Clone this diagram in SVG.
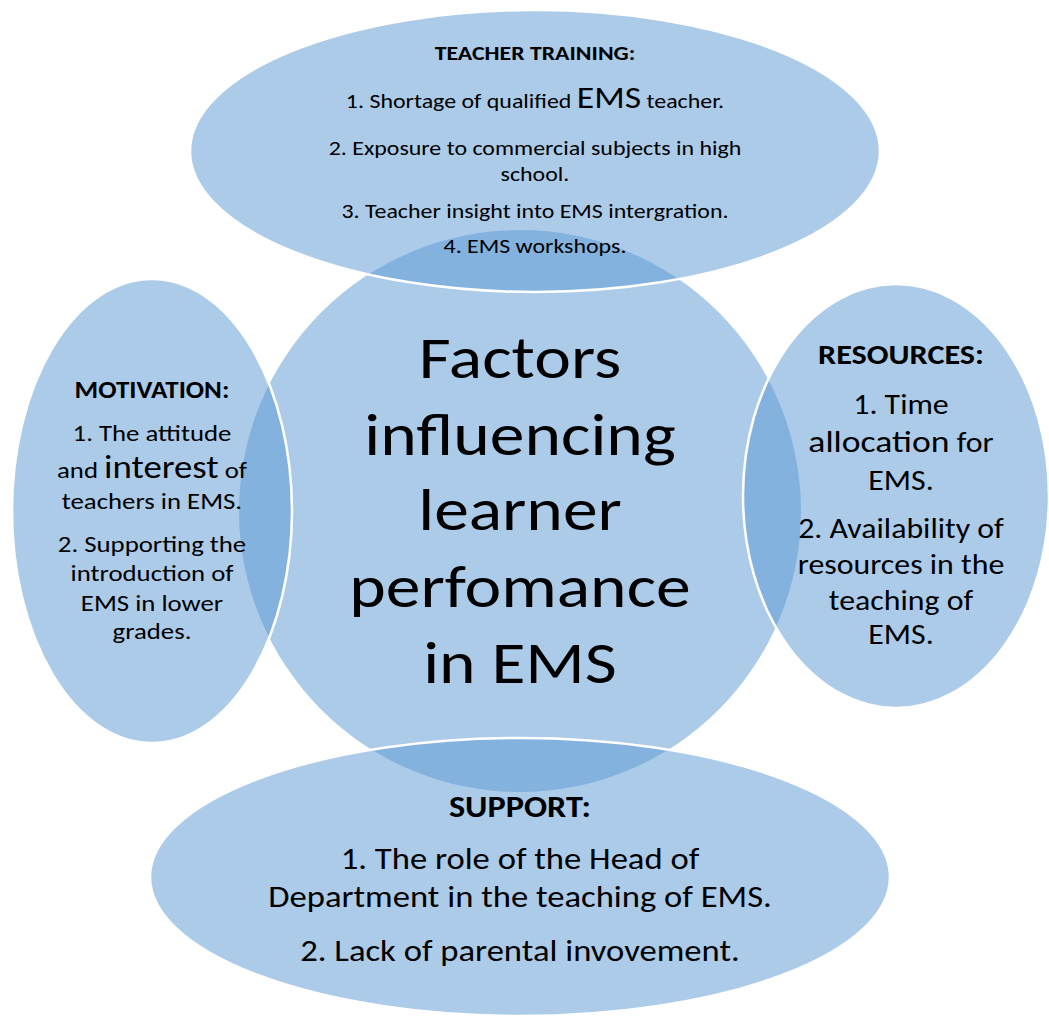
<svg xmlns="http://www.w3.org/2000/svg" width="1049" height="1017" viewBox="0 0 1049 1017">
<style>
.shape{fill:#5F9BD4;fill-opacity:0.52}
.sat{stroke:#ffffff;stroke-width:2.5}
text{font-family:Carlito,Lato,"Liberation Sans",sans-serif;fill:#000;text-anchor:middle}
.b{font-weight:bold}
</style>
<rect width="1049" height="1017" fill="#ffffff"/>
<g id="center">
<circle class="shape" cx="520" cy="511" r="281"/>
<g transform="matrix(1.15 0 0 1 -78 0)">
<text font-size="60.5"><tspan x="520" y="378">Factors</tspan><tspan x="520" y="455">influencing</tspan><tspan x="520" y="530">learner</tspan><tspan x="520" y="607">perfomance</tspan><tspan x="520" y="683">in EMS</tspan></text>
</g>
</g>
<g id="teacher-training">
<ellipse class="shape sat" cx="535" cy="151" rx="345" ry="141"/>
<g transform="matrix(1.15 0 0 1 -80.25 0)">
<text class="b" font-size="20.7" x="535" y="60">TEACHER TRAINING:</text>
<text font-size="20.8" x="535" y="108">1. Shortage of qualified <tspan font-size="31">EMS</tspan> teacher.</text>
<text font-size="20.8"><tspan x="535" y="155">2. Exposure to commercial subjects in high</tspan><tspan x="535" y="181">school.</tspan></text>
<text font-size="20.8" x="535" y="218">3. Teacher insight into EMS intergration.</text>
<text font-size="20.8" x="535" y="253">4. EMS workshops.</text>
</g>
</g>
<g id="motivation">
<ellipse class="shape sat" cx="152" cy="511" rx="140" ry="232"/>
<g transform="matrix(1.15 0 0 1 -22.8 0)">
<text class="b" font-size="23.5" x="152" y="398">MOTIVATION:</text>
<text font-size="23.3"><tspan x="152" y="441">1. The attitude</tspan><tspan x="152" y="478">and <tspan font-size="32">interest</tspan> of</tspan><tspan x="152" y="509">teachers in EMS.</tspan><tspan x="152" y="552">2. Supporting the</tspan><tspan x="152" y="581">introduction of</tspan><tspan x="152" y="611">EMS in lower</tspan><tspan x="152" y="639">grades.</tspan></text>
</g>
</g>
<g id="resources">
<ellipse class="shape sat" cx="896" cy="496" rx="153" ry="212"/>
<g transform="matrix(1.15 0 0 1 -135.15 0)">
<text class="b" font-size="28" x="901" y="364">RESOURCES:</text>
<text font-size="27.7"><tspan x="901" y="414">1. Time</tspan><tspan x="901" y="452"><tspan font-size="31">allocation</tspan> for</tspan><tspan x="901" y="490">EMS.</tspan><tspan x="901" y="538">2. Availability of</tspan><tspan x="901" y="574">resources in the</tspan><tspan x="901" y="610">teaching of</tspan><tspan x="901" y="644">EMS.</tspan></text>
</g>
</g>
<g id="support">
<ellipse class="shape sat" cx="520" cy="877" rx="370" ry="139"/>
<g transform="matrix(1.15 0 0 1 -78 0)">
<text class="b" font-size="29.8" x="520" y="817">SUPPORT:</text>
<text font-size="30.1"><tspan x="520" y="869">1. The role of the Head of</tspan><tspan x="520" y="907">Department in the teaching of EMS.</tspan><tspan x="520" y="961">2. Lack of parental invovement.</tspan></text>
</g>
</g>
<g id="connectors"></g>
</svg>
